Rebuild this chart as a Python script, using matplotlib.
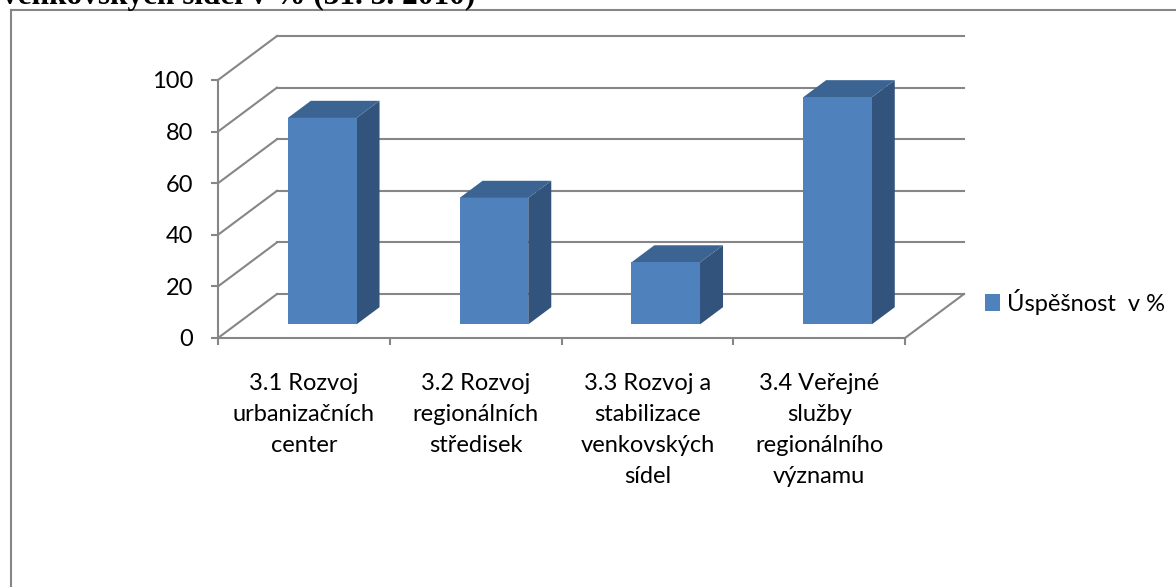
"""
Excel-style 3D column chart: Úspěšnost v % by priority area.
"""
import matplotlib
matplotlib.use("Agg")
import matplotlib.pyplot as plt
from matplotlib.patches import Polygon, Patch
from matplotlib.lines import Line2D
import numpy as np

# data
categories = [
    "3.1 Rozvoj\nurbanizačních\ncenter",
    "3.2 Rozvoj\nregionálních\nstředisek",
    "3.3 Rozvoj a\nstabilizace\nvenkovských\nsídel",
    "3.4 Veřejné\nslužby\nregionálního\nvýznamu",
]
values = [80, 49, 24, 88]
yticks = [0, 20, 40, 60, 80, 100]
series_name = "Úspěšnost  v %"
title = "venkovských sídel v % (31. 3. 2010)"

FONT = "Lato"
FS = 17
GRID = "#868686"
FRONT = "#4F81BD"
SIDE = "#32537C"
TOP = "#3C6493"

W, H = 1176, 587
fig = plt.figure(figsize=(W / 100, H / 100), dpi=100)

# front plane of the plot area in pixels
x0, x1 = 218, 905
y0, y1 = 338, 80
ax = fig.add_axes([x0 / W, 1 - y0 / H, (x1 - x0) / W, (y0 - y1) / H])
n = len(values)
ax.set_xlim(0, n)
ax.set_ylim(0, 100)

# depth of the 3D box in data units
DX = 59 / (x1 - x0) * n
DY = 44 / ((y0 - y1) / 100)

# walls: diagonal on the left side, horizontal on the back
for v in yticks:
    ax.add_line(Line2D([0, DX], [v, v + DY], color=GRID, lw=1.5, clip_on=False))
    ax.add_line(Line2D([DX, n + DX], [v + DY, v + DY], color=GRID, lw=1.5, clip_on=False))
ax.add_line(Line2D([n, n + DX], [0, DY], color=GRID, lw=1.5, clip_on=False))

# bars
bw = 0.40
f0, f1 = 0.31, 0.70
xc = np.arange(n) + 0.5
for c, v in zip(xc, values):
    xl = c - bw / 2 + f0 * DX
    xr = c + bw / 2 + f0 * DX
    b = f0 * DY
    ddx = (f1 - f0) * DX
    ddy = (f1 - f0) * DY
    ax.add_patch(Polygon([(xr, b), (xr + ddx, b + ddy), (xr + ddx, b + v + ddy), (xr, b + v)],
                         closed=True, facecolor=SIDE, edgecolor="none", clip_on=False, zorder=3))
    ax.add_patch(Polygon([(xl, b + v), (xr, b + v), (xr + ddx, b + v + ddy), (xl + ddx, b + v + ddy)],
                         closed=True, facecolor=TOP, edgecolor="none", clip_on=False, zorder=3))
ax.bar(xc + f0 * DX, values, width=bw, bottom=f0 * DY, color=FRONT, zorder=4, clip_on=False)

# axes
for s in ["top", "right"]:
    ax.spines[s].set_visible(False)
for s in ["left", "bottom"]:
    ax.spines[s].set_color(GRID)
    ax.spines[s].set_linewidth(1.5)
ax.set_yticks(yticks)
ax.set_yticklabels([str(t) for t in yticks], fontsize=FS, family=FONT)
ax.set_xticks(np.arange(n + 1))
ax.set_xticklabels([])
ax.set_xticks(xc, minor=True)
ax.set_xticklabels(categories, minor=True, fontsize=FS, family=FONT, linespacing=1.6, va="top")
ax.tick_params(axis="x", which="minor", length=0, pad=25)
ax.tick_params(axis="both", which="major", color=GRID, width=1.5, length=5)
ax.tick_params(axis="y", pad=13)
ax.patch.set_visible(False)

# legend
fig.legend(handles=[Patch(facecolor=FRONT, edgecolor="none", label=series_name)],
           loc="center left", bbox_to_anchor=(976 / W, 1 - 302 / H), frameon=False,
           prop={"family": FONT, "size": FS}, handlelength=0.6, handleheight=0.75,
           handletextpad=0.3, borderaxespad=0)

# chart frame (cut off at right and bottom)
fig.add_artist(Line2D([11 / W, 11 / W], [1 - 10 / H, 0], color=GRID, lw=1.5))
fig.add_artist(Line2D([11 / W, 1], [1 - 10 / H, 1 - 10 / H], color=GRID, lw=1.5))

# title line, mostly cropped by the top edge
fig.text(2 / W, 1 - 4 / H, title, family="Liberation Serif", fontweight="bold",
         fontsize=22.5, va="baseline", ha="left")

fig.savefig("out.png", dpi=100)
